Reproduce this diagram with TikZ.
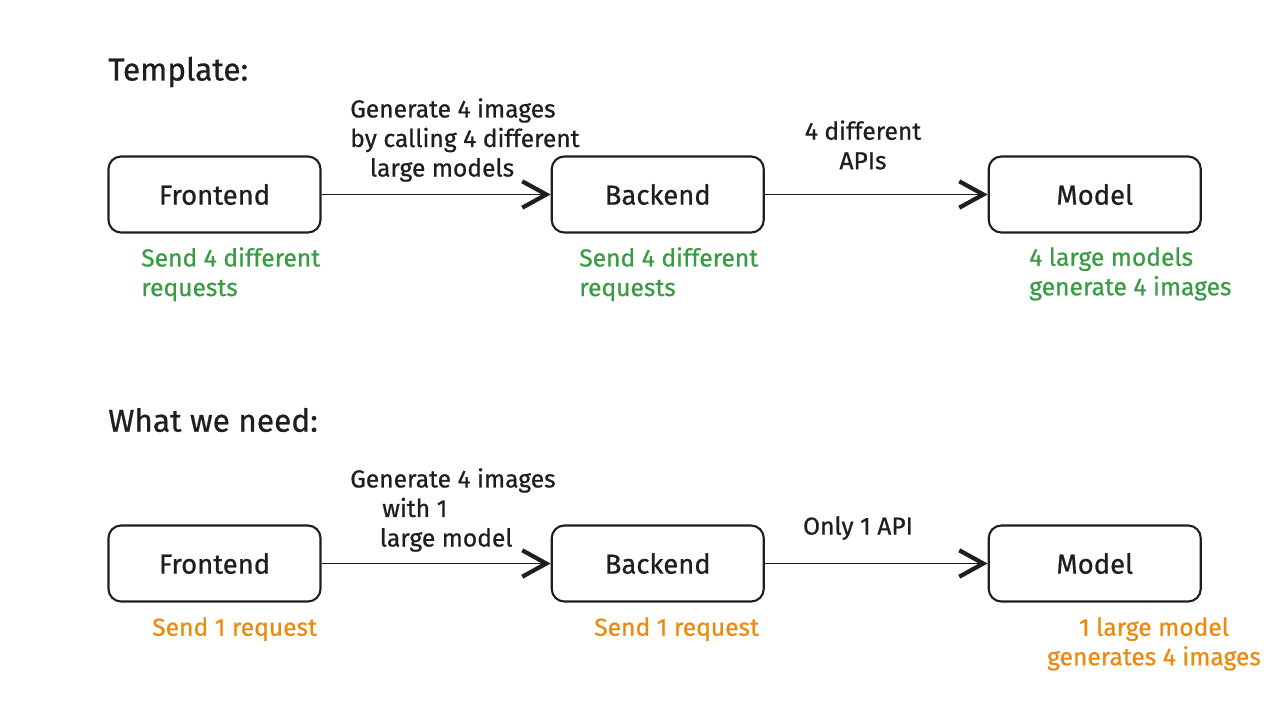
\documentclass[tikz,border=0pt]{standalone}
\usepackage{fontspec}
\setmainfont{Fira Sans}[FakeBold=0.7]
\usetikzlibrary{arrows.meta,positioning}
\definecolor{inkblack}{HTML}{1E1E1E}
\definecolor{notegreen}{HTML}{3A9B45}
\definecolor{noteorange}{HTML}{EC8A10}

\begin{document}
\begin{tikzpicture}[
    x=0.025cm, y=-0.025cm,
    font=\fontsize{17.5}{21}\selectfont,
    >={Straight Barb[length=0.6cm,width=0.66cm,line width=3pt]},
    box/.style={
        draw=inkblack,
        line width=1.5pt,
        minimum width=5.3cm,
        minimum height=1.9cm,
        rounded corners=9pt,
        text=inkblack,
        font=\fontsize{19.5}{23}\selectfont
    },
    flow/.style={->, line width=1.4pt, draw=inkblack},
    flowlabel/.style={text=inkblack, align=left, inner sep=0pt},
    title/.style={font=\fontsize{22.5}{26}\selectfont, text=inkblack, anchor=west, inner sep=0pt},
    goodnote/.style={text=notegreen, align=left, anchor=north west, inner sep=0pt},
    fixnote/.style={text=noteorange, align=left, anchor=north west, inner sep=0pt}
]
\useasboundingbox (0,0) rectangle (1280,723);

% Titoli
\node[title] (ttemplate) at (108,72) {Template:};
\node[title] (tneed) at (108,420) {What we need:};

% Blocchi (template)
\node[box] (front) at (214.5,194.5) {Frontend};
\node[box, right=5.725cm of front] (back) {Backend};
\node[box, right=5.57cm of back] (model) {Model};

% Blocchi (what we need)
\node[box] (front2) at (214.5,563.5) {Frontend};
\node[box, right=5.725cm of front2] (back2) {Backend};
\node[box, right=5.57cm of back2] (model2) {Model};

% Collegamenti
\draw[flow] (front) -- (back);
\draw[flow] (back) -- (model);
\draw[flow] (front2) -- (back2);
\draw[flow] (back2) -- (model2);

% Etichette frecce
\node[flowlabel, anchor=west] (lcall) at (350,140) {Generate 4 images\\by calling 4 different\\\hspace*{0.8em}large models};
\node[flowlabel, align=center] (lapis) at (863,145) {4 different\\APIs};
\node[flowlabel, anchor=west] (lone) at (350,510) {Generate 4 images\\\hspace*{1.3em}with 1\\\hspace*{1.2em}large model};
\node[flowlabel] (lonly) at (858,528) {Only 1 API};

% Note sotto i blocchi
\node[goodnote] (nfront) at (141,247) {Send 4 different\\requests};
\node[goodnote] (nback) at (579,247) {Send 4 different\\requests};
\node[goodnote] (nmodel) at (1029,247) {4 large models\\generate 4 images};
\node[fixnote] (nfront2) at (152,617) {Send 1 request};
\node[fixnote] (nback2) at (594,617) {Send 1 request};
\node[fixnote, align=center, anchor=north] (nmodel2) at (1154,617) {1 large model\\generates 4 images};

\end{tikzpicture}
\end{document}
